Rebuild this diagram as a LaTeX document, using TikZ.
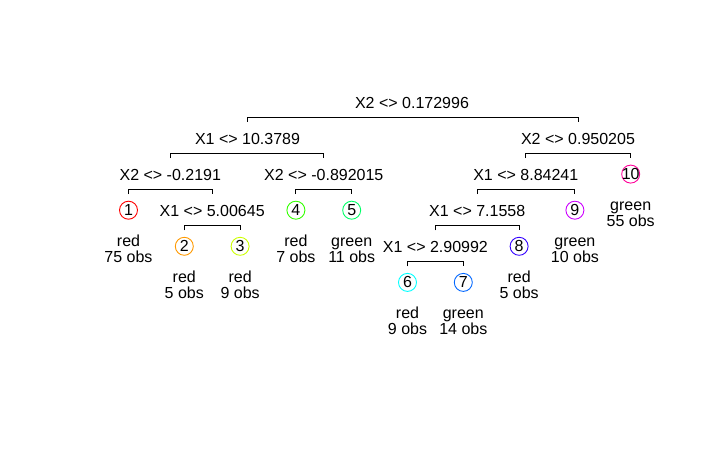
\documentclass[tikz,border=0pt]{standalone}
\usepackage{fontspec}
\setmainfont{Liberation Sans}
\definecolor{c1}{HTML}{FF0000}
\definecolor{c2}{HTML}{FF9900}
\definecolor{c3}{HTML}{CCFF00}
\definecolor{c4}{HTML}{33FF00}
\definecolor{c5}{HTML}{00FF66}
\definecolor{c6}{HTML}{00FFFF}
\definecolor{c7}{HTML}{0066FF}
\definecolor{c8}{HTML}{3300FF}
\definecolor{c9}{HTML}{CC00FF}
\definecolor{c10}{HTML}{FF0099}
\begin{document}
\begin{tikzpicture}[x=1pt,y=-1pt,
  font=\fontsize{16}{16}\selectfont,
  splitlabel/.style={anchor=base,inner sep=0pt},
  leafcirc/.style={circle,draw=#1,line width=0.9pt,minimum size=18pt,inner sep=0pt},
  leaftext/.style={anchor=base,inner sep=0pt},
  bracket/.style={line width=1pt,line cap=butt}]
\useasboundingbox (0,0) rectangle (721,449);
% split labels (x, baseline)
\node[splitlabel] (s0) at (412,108.5) {X2 <> 0.172996};
\node[splitlabel] (s1) at (247.5,144.6) {X1 <> 10.3789};
\node[splitlabel] (s2) at (578,144.6) {X2 <> 0.950205};
\node[splitlabel] (s3) at (170.3,180.7) {X2 <> -0.2191};
\node[splitlabel] (s4) at (323.8,180.7) {X2 <> -0.892015};
\node[splitlabel] (s5) at (212.2,216.8) {X1 <> 5.00645};
\node[splitlabel] (s6) at (525.8,180.7) {X1 <> 8.84241};
\node[splitlabel] (s7) at (477.2,216.8) {X1 <> 7.1558};
\node[splitlabel] (s8) at (435.4,252.9) {X1 <> 2.90992};
% bracket corner coordinates
\coordinate (b0l) at (247.5,117.5); \coordinate (b0r) at (578,117.5);
\coordinate (b1l) at (170.3,153.6); \coordinate (b1r) at (323.8,153.6);
\coordinate (b2l) at (525.8,153.6); \coordinate (b2r) at (630.7,153.6);
\coordinate (b3l) at (128.5,189.7); \coordinate (b3r) at (212.2,189.7);
\coordinate (b4l) at (295.9,189.7); \coordinate (b4r) at (351.7,189.7);
\coordinate (b5l) at (184.3,225.8); \coordinate (b5r) at (240.1,225.8);
\coordinate (b6l) at (477.2,189.7); \coordinate (b6r) at (574.9,189.7);
\coordinate (b7l) at (435.4,225.8); \coordinate (b7r) at (519.1,225.8);
\coordinate (b8l) at (407.5,261.9); \coordinate (b8r) at (463.3,261.9);
\foreach \b in {b0,b1,b2,b3,b4,b5,b6,b7,b8}{
  \draw[bracket] ([yshift=-4.5pt]\b l) -- (\b l) -- (\b r) -- ([yshift=-4.5pt]\b r);
}
% leaves
\foreach \n/\x/\y/\cls/\obs in {1/128.5/210.2/red/75, 2/184.3/246.3/red/5, 3/240.1/246.3/red/9,
  4/295.9/210.2/red/7, 5/351.7/210.2/green/11, 6/407.5/282.4/red/9, 7/463.3/282.4/green/14,
  8/519.1/246.3/red/5, 9/574.9/210.2/green/10, 10/630.7/174.1/green/55}{
  \node[leafcirc=c\n] (l\n) at (\x,\y) {};
  \node at (l\n) {\makebox[0pt]{\n}};
  \node[leaftext] (k\n) at (\x,\y+36.3) {\cls};
  \node[leaftext] (o\n) at (\x,\y+52.4) {\obs\ obs};
}
\end{tikzpicture}
\end{document}
